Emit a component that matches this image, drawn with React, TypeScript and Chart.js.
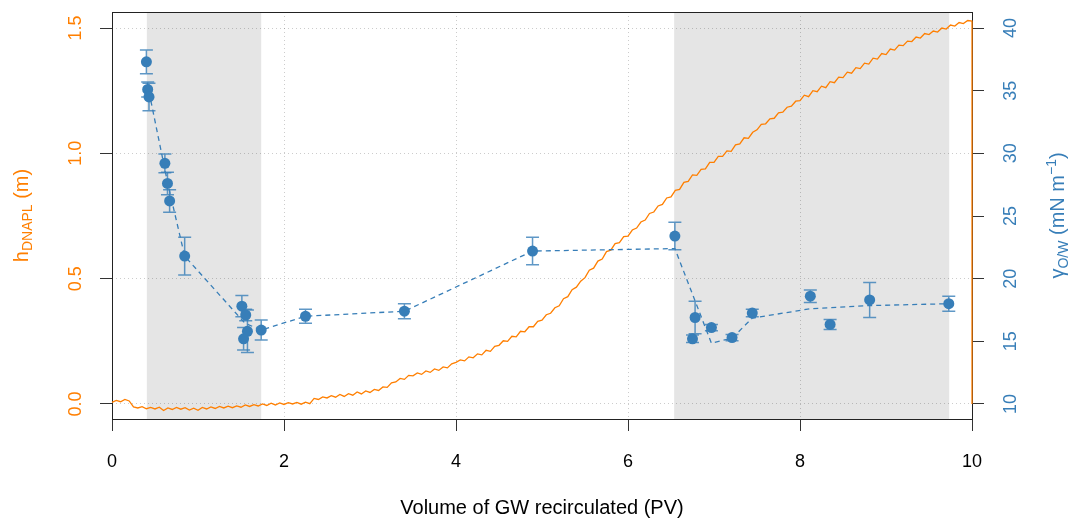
import React, { useEffect, useRef } from "react";
import { Chart, registerables } from "chart.js";

Chart.register(...registerables);

const FONT = '"Liberation Sans", Arial, Helvetica, sans-serif';

// axis ticks
const xTicks = [0, 2, 4, 6, 8, 10];
const hTicks = [0, 0.5, 1.0, 1.5];
const gammaTicks = [10, 15, 20, 25, 30, 35, 40];

// shaded periods (PV)
const shadeStart = [0.405, 6.537];
const shadeEnd = [1.735, 9.735];

// h_DNAPL (m), sampled every 0.05 PV from 0 to 10
const hStep = 0.05;
const hValues = [
  0.006, 0.014, 0.009, 0.018, 0.012, -0.012, -0.016, -0.011, -0.019, -0.014,
  -0.020, -0.013, -0.026, -0.016, -0.022, -0.014, -0.021, -0.015, -0.024, -0.017,
  -0.025, -0.014, -0.020, -0.012, -0.018, -0.010, -0.016, -0.009, -0.015, -0.008,
  -0.013, -0.004, -0.010, -0.003, -0.008, 0.000, -0.006, 0.003, -0.004, 0.004,
  -0.002, 0.005, 0.000, 0.006, -0.001, 0.007, 0.001, 0.022, 0.018, 0.028,
  0.024, 0.033, 0.027, 0.038, 0.030, 0.041, 0.035, 0.048, 0.040, 0.052,
  0.046, 0.058, 0.054, 0.068, 0.066, 0.084, 0.088, 0.102, 0.098, 0.114,
  0.112, 0.124, 0.118, 0.132, 0.126, 0.140, 0.134, 0.148, 0.144, 0.160,
  0.166, 0.176, 0.172, 0.188, 0.184, 0.200, 0.196, 0.214, 0.210, 0.230,
  0.234, 0.252, 0.250, 0.270, 0.268, 0.290, 0.288, 0.308, 0.308, 0.330,
  0.334, 0.356, 0.362, 0.384, 0.392, 0.420, 0.428, 0.456, 0.466, 0.490,
  0.504, 0.534, 0.542, 0.570, 0.578, 0.608, 0.614, 0.640, 0.644, 0.668,
  0.670, 0.694, 0.702, 0.726, 0.734, 0.760, 0.766, 0.790, 0.796, 0.822,
  0.826, 0.852, 0.856, 0.884, 0.888, 0.914, 0.912, 0.936, 0.938, 0.964,
  0.964, 0.988, 0.988, 1.010, 1.008, 1.034, 1.038, 1.062, 1.060, 1.084,
  1.094, 1.116, 1.118, 1.138, 1.140, 1.162, 1.164, 1.184, 1.188, 1.208,
  1.210, 1.232, 1.226, 1.250, 1.246, 1.268, 1.262, 1.286, 1.282, 1.304,
  1.302, 1.324, 1.320, 1.342, 1.338, 1.360, 1.356, 1.380, 1.376, 1.398,
  1.394, 1.416, 1.412, 1.432, 1.430, 1.448, 1.446, 1.464, 1.460, 1.478,
  1.474, 1.488, 1.484, 1.500, 1.496, 1.512, 1.508, 1.522, 1.518, 1.530,
  1.528,
];
const hEndX = [10.0];
const hEndY = [0.0];

// interfacial tension gamma_O/W (mN/m) measurements
const gX = [0.40, 0.415, 0.43, 0.615, 0.645, 0.67, 0.845, 1.51, 1.555, 1.575, 1.53, 1.735, 2.25, 3.40, 4.89, 6.545, 6.78, 6.75, 6.97, 7.21, 7.445, 8.12, 8.35, 8.81, 9.73];
const gY = [37.3, 35.1, 34.5, 29.2, 27.6, 26.2, 21.8, 17.8, 17.1, 15.8, 15.2, 15.9, 17.0, 17.4, 22.2, 23.4, 16.9, 15.2, 16.1, 15.3, 17.25, 18.6, 16.35, 18.3, 18.0];
const gErr = [0.95, 0.6, 1.1, 0.75, 0.9, 0.9, 1.5, 0.85, 0.45, 1.7, 0.9, 0.8, 0.55, 0.6, 1.1, 1.1, 1.3, 0.3, 0.25, 0.25, 0.3, 0.5, 0.4, 1.4, 0.6];

// dashed trend line
const fitX = [0.41, 0.645, 0.845, 1.545, 1.735, 2.25, 3.40, 4.89, 6.545, 6.97, 7.21, 7.445, 8.12, 8.81, 9.73];
const fitY = [35.6, 27.7, 21.8, 16.45, 15.9, 17.0, 17.4, 22.2, 22.4, 14.85, 15.25, 16.85, 17.6, 17.85, 18.0];

const ORANGE = "#ff7f00";
const BLUE = "#377eb8";

type Part = { t: string; s: number; dy: number };

function drawRich(ctx: CanvasRenderingContext2D, parts: Part[], cx: number, cy: number, rot: boolean, color: string) {
  ctx.save();
  ctx.translate(cx, cy);
  if (rot) ctx.rotate(-Math.PI / 2);
  ctx.fillStyle = color;
  ctx.textBaseline = "alphabetic";
  ctx.textAlign = "left";
  let w = 0;
  for (const p of parts) {
    ctx.font = `${p.s}px ${FONT}`;
    w += ctx.measureText(p.t).width;
  }
  let x = -w / 2;
  for (const p of parts) {
    ctx.font = `${p.s}px ${FONT}`;
    ctx.fillText(p.t, x, 7 + p.dy);
    x += ctx.measureText(p.t).width;
  }
  ctx.restore();
}

const shadePlugin = {
  id: "shade",
  beforeDraw(chart: any) {
    const { ctx, chartArea, scales } = chart;
    ctx.save();
    ctx.fillStyle = "#e5e5e5";
    shadeStart.forEach((s, i) => {
      const x0 = scales.x.getPixelForValue(s);
      const x1 = scales.x.getPixelForValue(shadeEnd[i]);
      ctx.fillRect(x0, chartArea.top, x1 - x0, chartArea.bottom - chartArea.top);
    });
    ctx.restore();
  },
};

const errorBarPlugin = {
  id: "errorBars",
  beforeDatasetDraw(chart: any, args: any) {
    if (args.index !== 0) return;
    const { ctx, scales } = chart;
    ctx.save();
    ctx.strokeStyle = "rgba(55,126,184,0.8)";
    ctx.lineWidth = 1.5;
    gX.forEach((v, i) => {
      const px = scales.x.getPixelForValue(v);
      const top = scales.y2.getPixelForValue(gY[i] + gErr[i]);
      const bot = scales.y2.getPixelForValue(gY[i] - gErr[i]);
      ctx.beginPath();
      ctx.moveTo(px, top);
      ctx.lineTo(px, bot);
      ctx.moveTo(px - 6.5, top);
      ctx.lineTo(px + 6.5, top);
      ctx.moveTo(px - 6.5, bot);
      ctx.lineTo(px + 6.5, bot);
      ctx.stroke();
    });
    ctx.restore();
  },
};

const framePlugin = {
  id: "frame",
  beforeDatasetsDraw(chart: any) {
    const { ctx, chartArea } = chart;
    ctx.save();
    ctx.strokeStyle = "#222";
    ctx.lineWidth = 1;
    ctx.strokeRect(
      Math.round(chartArea.left) + 0.5,
      Math.round(chartArea.top) + 0.5,
      Math.round(chartArea.right - chartArea.left),
      Math.round(chartArea.bottom - chartArea.top)
    );
    ctx.restore();
  },
  afterDraw(chart: any) {
    const { ctx, chartArea } = chart;
    const cy = (chartArea.top + chartArea.bottom) / 2;
    drawRich(ctx, [
      { t: "h", s: 20, dy: 0 },
      { t: "DNAPL", s: 14, dy: 4 },
      { t: " (m)", s: 20, dy: 0 },
    ], 21, cy, true, ORANGE);
    drawRich(ctx, [
      { t: "γ", s: 20, dy: 0 },
      { t: "O/W", s: 14, dy: 4 },
      { t: " (mN m", s: 20, dy: 0 },
      { t: "−1", s: 14, dy: -8 },
      { t: ")", s: 20, dy: 0 },
    ], 1057, cy, true, BLUE);
    drawRich(ctx, [{ t: "Volume of GW recirculated (PV)", s: 20, dy: 0 }], (chartArea.left + chartArea.right) / 2, 507, false, "#000");
  },
};

export default function App() {
  const ref = useRef<HTMLCanvasElement>(null);
  useEffect(() => {
    const canvas = ref.current;
    if (!canvas) return;
    const hData = hValues.map((v, i) => ({ x: +(i * hStep).toFixed(2), y: v }));
    hEndX.forEach((x, i) => hData.push({ x, y: hEndY[i] }));
    const chart = new Chart(canvas, {
      type: "scatter",
      data: {
        datasets: [
          {
            label: "gamma",
            data: gX.map((x, i) => ({ x, y: gY[i] })),
            yAxisID: "y2",
            pointRadius: 5.5,
            pointBackgroundColor: BLUE,
            pointBorderWidth: 0,
            showLine: false,
          },
          {
            label: "trend",
            data: fitX.map((x, i) => ({ x, y: fitY[i] })),
            yAxisID: "y2",
            showLine: true,
            borderColor: BLUE,
            borderWidth: 1.3,
            borderDash: [5, 4],
            pointRadius: 0,
            tension: 0,
          },
          {
            label: "h",
            data: hData,
            yAxisID: "y",
            showLine: true,
            borderColor: ORANGE,
            borderWidth: 1.3,
            pointRadius: 0,
            tension: 0,
            clip: 4,
          },
        ],
      },
      options: {
        animation: false,
        responsive: false,
        events: [],
        layout: { padding: { top: 12, left: 0, right: 0, bottom: 0 } },
        plugins: { legend: { display: false }, tooltip: { enabled: false } },
        scales: {
          x: {
            type: "linear",
            min: 0,
            max: 10,
            afterBuildTicks: (s: any) => { s.ticks = xTicks.map((v) => ({ value: v })); },
            afterFit: (s: any) => { s.height = 101; s.paddingLeft = 0; s.paddingRight = 0; },
            ticks: { color: "#000", font: { family: FONT, size: 18 }, padding: 20, maxRotation: 0 },
            grid: { color: "rgba(0,0,0,0.2)", tickColor: "#333", tickLength: 12, drawTicks: true },
            border: { display: false, dash: [1, 3] },
          },
          y: {
            type: "linear",
            position: "left",
            min: -0.06,
            max: 1.564,
            afterBuildTicks: (s: any) => { s.ticks = hTicks.map((v) => ({ value: v })); },
            afterFit: (s: any) => { s.width = 112; s.paddingTop = 0; s.paddingBottom = 0; },
            ticks: {
              color: ORANGE,
              font: { family: FONT, size: 18 },
              minRotation: 90,
              maxRotation: 90,
              crossAlign: "center",
              padding: 11,
              callback: (v: any) => Number(v).toFixed(1),
            },
            grid: { color: "rgba(0,0,0,0.2)", tickColor: "#333", tickLength: 12 },
            border: { display: false, dash: [1, 3] },
          },
          y2: {
            type: "linear",
            position: "right",
            min: 8.8,
            max: 41.28,
            afterBuildTicks: (s: any) => { s.ticks = gammaTicks.map((v) => ({ value: v })); },
            afterFit: (s: any) => { s.width = 100; s.paddingTop = 0; s.paddingBottom = 0; },
            ticks: {
              color: BLUE,
              font: { family: FONT, size: 18 },
              minRotation: 90,
              maxRotation: 90,
              crossAlign: "center",
              padding: 17,
              callback: (v: any) => String(v),
            },
            grid: { drawOnChartArea: false, tickColor: "#333", tickLength: 12 },
            border: { display: false },
          },
        },
      } as any,
      plugins: [shadePlugin, errorBarPlugin, framePlugin],
    });
    return () => chart.destroy();
  }, []);
  return (
    <div style={{ position: "fixed", left: 0, top: 0, width: 1072, height: 520, background: "#fff" }}>
      <canvas ref={ref} width={1072} height={520} style={{ display: "block", width: 1072, height: 520 }} />
    </div>
  );
}
